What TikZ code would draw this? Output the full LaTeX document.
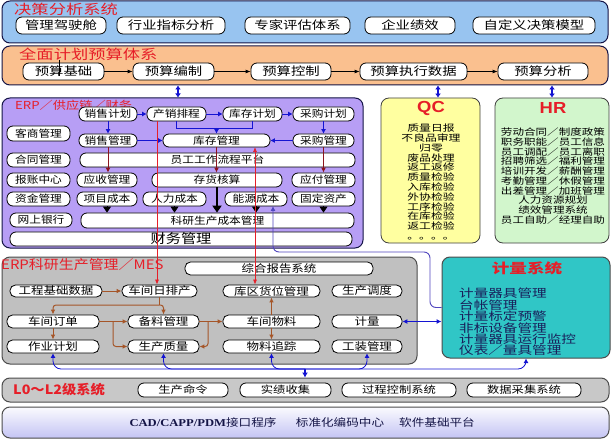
\documentclass[tikz,border=0pt]{standalone}
\usepackage{fontspec}
\usepackage{graphicx}
\setmainfont{Noto Sans CJK SC}
\newfontfamily\lserif{Liberation Serif}
\newfontfamily\lsans{Liberation Sans}
\usetikzlibrary{arrows.meta}
\definecolor{decblue}{RGB}{152,196,240}
\definecolor{budor}{RGB}{250,192,143}
\definecolor{erppur}{RGB}{183,158,245}
\definecolor{qcyel}{RGB}{255,255,160}
\definecolor{hrgrn}{RGB}{210,246,204}
\definecolor{mesgray}{RGB}{192,192,192}
\definecolor{jlteal}{RGB}{48,198,198}
\definecolor{lzgray}{RGB}{200,200,200}
\definecolor{ttlred}{RGB}{230,30,40}
\definecolor{arblue}{RGB}{20,20,210}
\definecolor{armar}{RGB}{140,20,30}
\definecolor{arbrn}{RGB}{165,85,40}
\definecolor{navy}{RGB}{20,20,70}
\definecolor{lnpur}{RGB}{80,70,190}
\definecolor{itnavy}{RGB}{25,30,90}
\definecolor{botlav}{RGB}{196,196,244}
\def\curhs{1.2}
\newcommand\sx[1]{\scalebox{\curhs}[1]{#1}}
\newcommand\mybox[7][]{%
  \node[box,#1,minimum width={#5pt-#3pt},minimum height={#6pt-#4pt}] (#2) at ({(#3+#5)/2},{(#4+#6)/2}) {\sx{#7}};}
\begin{document}
\begin{tikzpicture}[x=1pt,y=-1pt,
  box/.style={draw=black,fill=white,line width=0.8pt,rounded corners=6pt,inner sep=0pt},
  panel/.style={draw=navy,line width=1pt,rounded corners=8pt,inner sep=0pt},
  dbox/.style={box,font=\fontsize{11.5}{12}\selectfont},
  ebox/.style={box,font=\fontsize{10}{11}\selectfont},
  mbox/.style={box,rounded corners=5.5pt,font=\fontsize{10.5}{11}\selectfont},
  lbox/.style={box,font=\fontsize{10}{11}\selectfont},
  ttl/.style={text=ttlred,inner sep=0pt,font=\fontsize{13.5}{14}\selectfont},
  karrow/.style={draw=black,line width=0.8pt,-{Latex[length=5pt,width=4pt]}},
  dblue/.style={draw=arblue,line width=1.3pt,{Latex[length=4pt,width=6pt]}-{Latex[length=4pt,width=6pt]}},
  barrow/.style={draw=arblue,line width=0.8pt,-{Latex[length=4.5pt,width=5pt]}},
  bline/.style={draw=arblue,line width=0.8pt},
  marrow/.style={draw=armar,line width=1pt,-{Latex[length=5pt,width=5pt]}},
  tarrow/.style={draw=black,line width=0.8pt,-{Triangle[length=6pt,width=8pt]}},
  tkarrow/.style={draw=black,line width=2pt,-{Triangle[length=7pt,width=9pt]}},
  rarrow/.style={draw=ttlred,line width=0.7pt,-{Latex[length=5pt,width=4pt]}},
  rdarrow/.style={draw=ttlred,line width=0.7pt,{Latex[length=5pt,width=4pt]}-{Latex[length=5pt,width=4pt]}},
  narrow/.style={draw=arbrn,line width=1pt,-{Latex[length=5pt,width=4.5pt]}},
  nline/.style={draw=arbrn,line width=1pt},
  ]
\useasboundingbox (0,0) rectangle (611,441);
\fill[white] (0,0) rectangle (611,441);

% ---------- panels
\mybox[panel,fill=decblue]{dec}{2}{1}{608}{43}{}
\mybox[panel,fill=budor]{bud}{2}{46}{608}{85}{}
\mybox[panel,fill=erppur]{erp}{2}{98}{363}{248}{}
\mybox[panel,fill=qcyel,draw=black!75,line width=0.8pt]{qc}{381}{98}{480}{243}{}
\mybox[panel,fill=hrgrn,draw=black!75,line width=0.8pt]{hr}{495}{98}{609}{243}{}
\mybox[panel,fill=mesgray,draw=black!70]{mes}{2}{257}{417}{364}{}
\mybox[panel,fill=jlteal,draw=black!70]{ms}{442}{257}{610}{358}{}
\mybox[panel,fill=lzgray,draw=black!70]{lz}{2}{378}{609}{402}{}
\mybox[panel,draw=black!70,top color=white!92!botlav,bottom color=botlav]{bot}{2}{407}{609}{438}{}

% ---------- titles
\node[ttl,anchor=west] (decT) at (14,9) {\scalebox{1.28}[1]{决策分析系统}};
\node[ttl,anchor=west] (budT) at (19,54) {\scalebox{1.28}[1]{全面计划预算体系}};
\node[ttl,anchor=west,font=\fontsize{11}{12}\selectfont] (erpT) at (15,105) {\scalebox{1.2}[1]{ERP／供应链／财务}};
\node[ttl,font=\lsans\bfseries\fontsize{16}{16}\selectfont] (qcT) at (431,108) {\scalebox{1.15}[1]{QC}};
\node[ttl,font=\lsans\bfseries\fontsize{16}{16}\selectfont] (hrT) at (553,108) {\scalebox{1.15}[1]{HR}};
\node[ttl,anchor=west,font=\fontsize{13}{14}\selectfont] (mesT) at (1,265) {\scalebox{1.15}[1]{ERP科研生产管理／MES}};
\node[ttl,font=\bfseries\fontsize{13.5}{14}\selectfont] (msT) at (527,268) {\scalebox{1.3}[1]{计量系统}};
\node[ttl,anchor=west,font=\bfseries\fontsize{13}{14}\selectfont] (lzT) at (13,390) {\scalebox{1.1}[1]{L0～L2级系统}};

% ---------- decision boxes
\def\curhs{1.25}
\mybox[dbox]{d1}{16}{17}{106}{34}{管理驾驶舱}
\mybox[dbox]{d2}{117}{17}{225}{34}{行业指标分析}
\mybox[dbox]{d3}{245}{17}{350}{34}{专家评估体系}
\mybox[dbox]{d4}{365}{17}{455}{34}{企业绩效}
\mybox[dbox]{d5}{473}{17}{595}{34}{自定义决策模型}

% ---------- budget boxes
\mybox[dbox]{b1}{23}{63}{104}{80}{预算基础}
\mybox[dbox]{b2}{133}{63}{214}{80}{预算编制}
\mybox[dbox]{b3}{251}{63}{331}{80}{预算控制}
\mybox[dbox]{b4}{360}{63}{467}{80}{预算执行数据}
\mybox[dbox]{b5}{498}{63}{588}{80}{预算分析}
\draw[black,line width=0.9pt] (59,60) -- (59,76);
\draw[karrow] (b1) -- (b2);
\draw[karrow] (b2) -- (b3);
\draw[karrow] (b3) -- (b4);
\draw[karrow] (b4) -- (b5);

\coordinate (xa) at (178,0);
\coordinate (xb) at (438,0);
\coordinate (xc) at (552,0);
\draw[dblue] (bud.south -| xa) -- (erp.north -| xa);
\draw[dblue] (bud.south -| xb) -- (qc.north -| xb);
\draw[dblue] (bud.south -| xc) -- (hr.north -| xc);

% ---------- ERP boxes
\def\curhs{1.17}
\mybox[ebox]{e1}{79}{107}{137}{121}{销售计划}
\mybox[ebox]{e2}{147}{107}{206}{121}{产销排程}
\mybox[ebox]{e3}{223}{107}{282}{121}{库存计划}
\mybox[ebox]{e4}{293}{107}{354}{121}{采购计划}
\mybox[ebox]{eK}{7}{126}{70}{141}{客商管理}
\mybox[ebox]{e5}{79}{134}{137}{147}{销售管理}
\mybox[ebox]{e6}{163}{134}{270}{147}{库存管理}
\mybox[ebox]{e7}{293}{134}{354}{147}{采购管理}
\mybox[ebox]{eH}{7}{153}{70}{167}{合同管理}
\mybox[ebox]{e8}{80}{153}{355}{167}{员工工作流程平台}
\mybox[ebox]{eB}{7}{173}{70}{187}{报账中心}
\mybox[ebox]{e9}{77}{173}{137}{187}{应收管理}
\mybox[ebox]{e10}{152}{173}{282}{187}{存货核算}
\mybox[ebox]{e11}{292}{173}{355}{187}{应付管理}
\mybox[ebox]{eZ}{7}{192}{70}{206}{资金管理}
\mybox[ebox]{e12}{77}{192}{137}{206}{项目成本}
\mybox[ebox]{e13}{143}{192}{206}{206}{人力成本}
\mybox[ebox]{e14}{225}{192}{287}{206}{能源成本}
\mybox[ebox]{e15}{292}{192}{355}{206}{固定资产}
\mybox[ebox]{eW}{10}{213}{72}{227}{网上银行}
\mybox[ebox]{e16}{81}{213}{354}{228}{科研生产成本管理}
\mybox[ebox,font=\fontsize{13}{14}\selectfont]{e17}{10}{232}{352}{246}{财务管理}

\draw[barrow] (e1) -- (e2);
\draw[barrow] (e2) -- (e3);
\draw[barrow] (e3) -- (e4);
\draw[barrow] (e1) -- (e5);
\draw[barrow] (e4) -- (e7);
\draw[bline] (e2.south) -- ++(0,7) -| (e3.south);
\coordinate (brk) at (216.5,128);
\draw[barrow] (brk) -- (e6.north);
\draw[barrow] (e5) -- (e6);
\draw[barrow] (e7) -- (e6);
\draw[marrow] (e5.south) -- (e5.south |- e9.north);
\draw[marrow] (e6.south) -- (e6.south |- e10.north);
\draw[marrow] (e7) -- (e11);
\draw[tarrow] (e12.south) -- (e12.south |- e16.north);
\draw[tarrow] (e13.south) -- (e13.south |- e16.north);
\draw[tarrow] (e14.south) -- (e14.south |- e16.north);
\draw[tarrow] (e15.south) -- (e15.south |- e16.north);
\draw[tkarrow] (e10.south) -- (e10.south |- e16.north);

% ---------- QC / HR lists
\def\curhs{1.3}
\node[inner sep=0pt,align=center,font=\fontsize{9.1}{9.8}\selectfont] (qci) at (431,182)
 {\sx{质量日报}\\\sx{不良品审理}\\\sx{归零}\\\sx{废品处理}\\\sx{返工返修}\\\sx{质量检验}\\\sx{入库检验}\\\sx{外协检验}\\\sx{工序检验}\\\sx{在库检验}\\\sx{返工检验}\\\sx{。。。。}};
\def\curhs{1.27}
\node[inner sep=0pt,align=center,font=\fontsize{9.1}{9.7}\selectfont] (hri) at (553,176)
 {\sx{劳动合同／制度政策}\\\sx{职务职能／员工信息}\\\sx{员工调配／员工离职}\\\sx{招聘筛选／福利管理}\\\sx{培训开发／薪酬管理}\\\sx{考勤管理／休假管理}\\\sx{出差管理／加班管理}\\\sx{人力资源规划}\\\sx{绩效管理系统}\\\sx{员工自助／经理自助}};

% ---------- metrology list
\def\curhs{1.28}
\node[inner sep=0pt,align=left,anchor=west,text=itnavy,font=\fontsize{11.4}{11.4}\selectfont] (msi) at (459,322)
 {\sx{计量器具管理}\\\sx{台帐管理}\\\sx{计量标定预警}\\\sx{非标设备管理}\\\sx{计量器具运行监控}\\\sx{仪表／量具管理}};

% ---------- MES boxes
\def\curhs{1.19}
\mybox[mbox]{m0}{185}{262}{373}{275}{综合报告系统}
\mybox[mbox]{m1}{10}{285}{102}{297}{工程基础数据}
\mybox[mbox]{m2}{122}{285}{197}{297}{车间日排产}
\mybox[mbox]{m3}{223}{285}{320}{297}{库区货位管理}
\mybox[mbox]{m4}{332}{285}{402}{297}{生产调度}
\mybox[mbox]{m5}{7}{315}{99}{328}{车间订单}
\mybox[mbox]{m6}{128}{315}{199}{328}{备料管理}
\mybox[mbox]{m7}{223}{315}{320}{328}{车间物料}
\mybox[mbox]{m8}{332}{315}{402}{328}{计量}
\mybox[mbox]{m9}{7}{340}{99}{353}{作业计划}
\mybox[mbox]{m10}{128}{340}{199}{353}{生产质量}
\mybox[mbox]{m11}{223}{340}{320}{353}{物料追踪}
\mybox[mbox]{m12}{332}{340}{402}{353}{工装管理}

\draw[narrow] (m1) -- (m2);
\coordinate (mj) at (159.5,305);
\draw[nline] (m2.south) -- (mj);
\draw[narrow,rounded corners=3pt] (mj) -| (m5.north);
\draw[narrow,rounded corners=3pt] (mj) -| (m6.north);
\draw[narrow] (m5) -- (m6);
\coordinate (mk) at (113,321.5);
\draw[narrow,rounded corners=3pt] (mk) |- (m10.west);
\draw[narrow] (m5) -- (m9);
\draw[narrow] (m6) -- (m7);
\coordinate (ml) at (208,321.5);
\draw[narrow,rounded corners=3pt] (ml) |- (m10.east);
\draw[narrow] (m7) -- (m3);
\draw[narrow] (m7) -- (m11);
\draw[draw=arblue,line width=1pt,{Latex[length=5pt,width=5pt]}-{Latex[length=5pt,width=5pt]}] (m8.east) -- (m8.east -| ms.west);

% ---------- red cross links
\coordinate (ra) at (157,121);
\draw[rarrow] (ra) -- (ra |- m2.north);
\coordinate (rb) at (255,147);
\draw[rdarrow] (rb) -- (rb |- m3.north);

% ---------- energy to metrology line
\coordinate (ga) at (273,206);
\draw[draw=lnpur,line width=0.9pt,{Latex[length=5pt,width=5pt]}-,rounded corners=6pt] (ga) |- (430,252) |- (ms.west);

% ---------- L0-L2 boxes
\def\curhs{1.23}
\mybox[lbox]{l1}{138}{383}{228}{397}{生产命令}
\mybox[lbox]{l2}{240}{383}{331}{397}{实绩收集}
\mybox[lbox]{l3}{342}{383}{456}{397}{过程控制系统}
\mybox[lbox]{l4}{467}{383}{581}{397}{数据采集系统}

% ---------- bottom network
\coordinate (hub) at (305,369);
\draw[barrow,rounded corners=8pt] (hub) -| (m9.south);
\draw[barrow,rounded corners=8pt] (hub) -| (m10.south);
\draw[barrow,rounded corners=8pt] (hub) -| (m11.south);
\draw[barrow,rounded corners=8pt] (hub) -| (m12.south);
\draw[barrow,rounded corners=8pt] (hub) -| (ms.south);
\draw[draw=arblue,line width=1.2pt,-{Latex[length=5pt,width=6pt]}] (hub) -- (hub |- lz.north);

% ---------- bottom platform
\def\curhs{1.2}
\node[inner sep=0pt,text=navy,font=\fontsize{10.5}{11}\selectfont] (t1) at (203,422) {\sx{{\lserif\bfseries CAD/CAPP/PDM}接口程序}};
\node[inner sep=0pt,text=navy,font=\fontsize{10.5}{11}\selectfont] (t2) at (340,422) {\sx{标准化编码中心}};
\node[inner sep=0pt,text=navy,font=\fontsize{10.5}{11}\selectfont] (t3) at (437,422) {\sx{软件基础平台}};
\end{tikzpicture}
\end{document}
